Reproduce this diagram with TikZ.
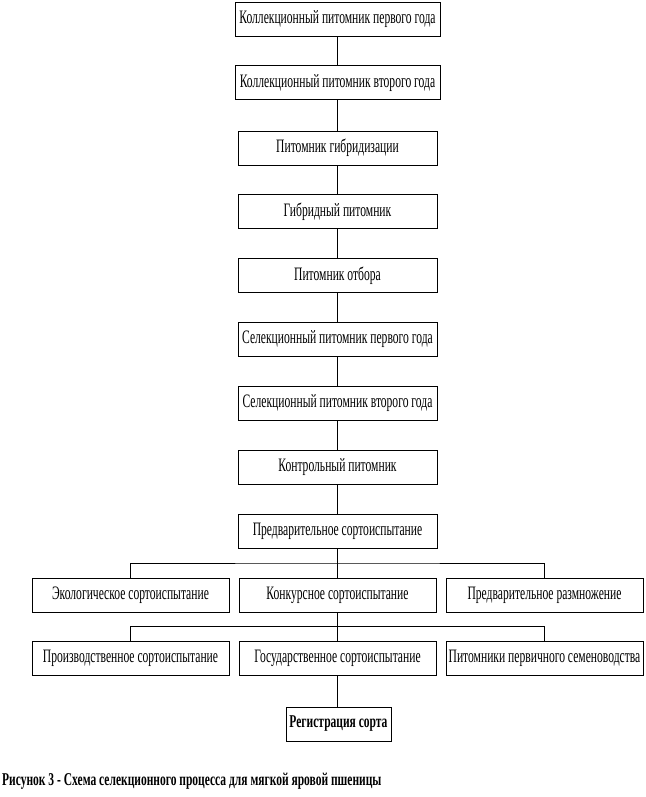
\documentclass[tikz,border=0pt]{standalone}
\usepackage{fontspec}
\setmainfont{Liberation Serif}[FakeStretch=0.61]
\newfontfamily\capfont{Liberation Serif}[FakeStretch=0.64]
\usetikzlibrary{calc}
\begin{document}
\begin{tikzpicture}[x=1pt,y=-1pt,
  box/.style={draw, line width=1pt, inner sep=0pt, minimum width=199pt, minimum height=34pt,
    font=\fontsize{19}{22}\selectfont},
  widebox/.style={box, minimum width=205pt},
  rowbox/.style={box, minimum width=197pt},
  regbox/.style={box, minimum width=105pt, minimum height=34pt, font=\capfont\fontsize{18}{21}\selectfont\bfseries},
  captext/.style={anchor=base west, inner sep=0pt, font=\capfont\fontsize{18}{21}\selectfont\bfseries},
  link/.style={line width=1pt}]
\useasboundingbox (0,0) rectangle (645,797);
\node[widebox] (k1) at (337.5,19.5) {Коллекционный питомник первого года};
\node[widebox] (k2) at (337.5,83) {Коллекционный питомник второго года};
\node[box] (k3) at (337.5,148) {Питомник гибридизации};
\node[box] (k4) at (337.5,211.5) {Гибридный питомник};
\node[box] (k5) at (337.5,275.5) {Питомник отбора};
\node[box] (k6) at (337.5,339) {Селекционный питомник первого года};
\node[box] (k7) at (337.5,403) {Селекционный питомник второго года};
\node[box] (k8) at (337.5,467) {Контрольный питомник};
\node[box] (k9) at (337.5,531) {Предварительное сортоиспытание};
\node[rowbox] (eco) at (130.5,595) {Экологическое сортоиспытание};
\node[rowbox] (konk) at (337.5,595) {Конкурсное сортоиспытание};
\node[rowbox] (razm) at (544.5,595) {Предварительное размножение};
\node[rowbox] (proizv) at (130.5,658.5) {Производственное сортоиспытание};
\node[rowbox] (gos) at (337.5,658.5) {Государственное сортоиспытание};
\node[rowbox] (pit) at (544.5,658.5) {Питомники первичного семеноводства};
\node[regbox] (reg) at (338.5,724) {Регистрация сорта};
\node[captext] (cap) at (2,785.5)
  {Рисунок 3 - Схема селекционного процесса для мягкой яровой пшеницы};
\foreach \a/\b in {k1/k2,k2/k3,k3/k4,k4/k5,k5/k6,k6/k7,k7/k8,k8/k9,k9/konk,konk/gos}
  \draw[link] (\a.south) -- (\b.north);
\draw[link] (gos.south) -- (gos.south |- reg.north);
\coordinate (b1) at ($(k9.south)!0.5!(konk.north)$);
\coordinate (b2) at ($(konk.south)!0.5!(gos.north)$);
\draw[link] (eco.north) |- (b1) -| (razm.north);
\draw[link] (proizv.north) |- (b2) -| (pit.north);
\end{tikzpicture}
\end{document}
